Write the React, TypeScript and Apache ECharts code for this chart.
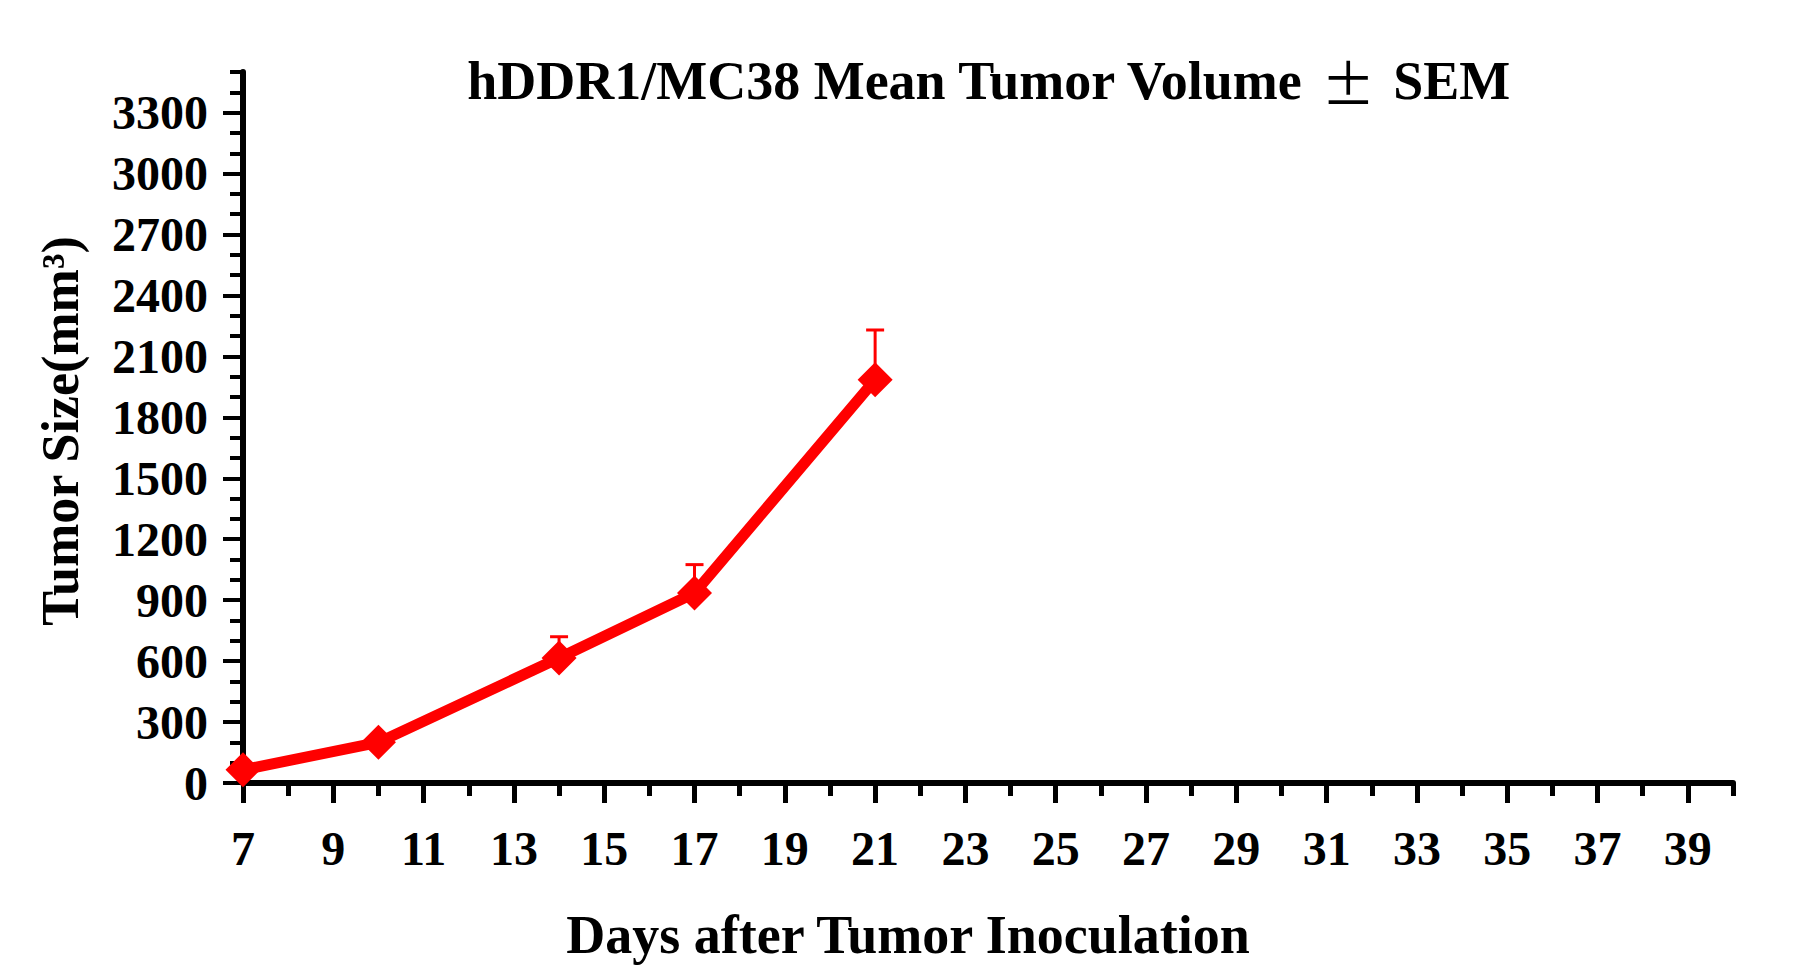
import React, { useEffect, useRef } from "react";
import * as echarts from "echarts";

const days = [7, 10, 14, 17, 21];
const meanVolume = [65, 200, 615, 935, 1985];
const semUpper = [65, 200, 720, 1075, 2230];

const xMajorTicks = [7, 9, 11, 13, 15, 17, 19, 21, 23, 25, 27, 29, 31, 33, 35, 37, 39];
const yMajorTicks = [0, 300, 600, 900, 1200, 1500, 1800, 2100, 2400, 2700, 3000, 3300];

const titleStart = "hDDR1/MC38 Mean Tumor Volume";
const titlePm = "±";
const titleEnd = "SEM";
const xTitle = "Days after Tumor Inoculation";
const yTitle = "Tumor Size(mm³)";

const FONT = "'Liberation Serif', 'Times New Roman', serif";

export default function App() {
  const ref = useRef<HTMLDivElement>(null);

  useEffect(() => {
    if (!ref.current) return;
    const chart = echarts.init(ref.current, null, { renderer: "svg" });
    const gridLeft = 243;
    const gridTop = 72;
    const gridWidth = 1490;
    const gridHeight = 711;

    const option: any = {
      animation: false,
      backgroundColor: "#ffffff",
      grid: { left: gridLeft, top: gridTop, width: gridWidth, height: gridHeight, containLabel: false },
      xAxis: [
        {
          type: "value",
          position: "bottom",
          min: 7,
          max: 40,
          interval: 1,
          splitLine: { show: false },
          axisLine: { show: true, onZero: false, lineStyle: { color: "#000", width: 6 } },
          axisTick: { show: true, inside: false, length: 13, lineStyle: { color: "#000", width: 5 } },
          axisLabel: {
            show: true,
            margin: 41,
            fontFamily: FONT,
            fontWeight: "bold",
            fontSize: 48,
            color: "#000",
            formatter: (v: number) => (xMajorTicks.indexOf(v) >= 0 ? String(v) : ""),
          },
        },
        {
          type: "value",
          position: "bottom",
          offset: 0,
          min: 7,
          max: 40,
          interval: 1,
          splitLine: { show: false },
          axisLine: { show: false },
          axisLabel: { show: false },
          axisTick: { show: true, length: 20, customValues: xMajorTicks, lineStyle: { color: "#000", width: 5 } },
        },
      ],
      yAxis: [
        {
          type: "value",
          position: "left",
          min: 0,
          max: 3500,
          interval: 100,
          splitLine: { show: false },
          axisLine: { show: true, onZero: false, lineStyle: { color: "#000", width: 6 } },
          axisTick: { show: true, inside: false, length: 13, lineStyle: { color: "#000", width: 4 } },
          axisLabel: {
            show: true,
            margin: 35,
            fontFamily: FONT,
            fontWeight: "bold",
            fontSize: 48,
            color: "#000",
            formatter: (v: number) => (yMajorTicks.indexOf(v) >= 0 ? String(v) : ""),
          },
        },
        {
          type: "value",
          position: "left",
          offset: 0,
          min: 0,
          max: 3500,
          interval: 100,
          splitLine: { show: false },
          axisLine: { show: false },
          axisLabel: { show: false },
          axisTick: { show: true, length: 20, customValues: yMajorTicks, lineStyle: { color: "#000", width: 4 } },
        },
      ],
      graphic: [
        {
          type: "text",
          x: 988,
          y: 81,
          style: {
            text: "{t|" + titleStart + "}{pm|" + titlePm + "}{t|" + titleEnd + "}",
            textAlign: "center",
            textVerticalAlign: "middle",
            rich: {
              t: {
                fontFamily: FONT,
                fontWeight: "bold",
                fontSize: 54,
                fill: "#000",
                lineHeight: 60,
              },
              pm: {
                fontFamily: "'Noto Sans CJK SC', 'DejaVu Sans', sans-serif",
                fontWeight: "normal",
                fontSize: 54,
                fill: "#000",
                lineHeight: 60,
                padding: [0, 18, 0, 18],
              },
            },
          },
        },
        {
          type: "text",
          x: 908,
          y: 935,
          style: {
            text: xTitle,
            fontFamily: FONT,
            fontWeight: "bold",
            fontSize: 54,
            fill: "#000",
            textAlign: "center",
            textVerticalAlign: "middle",
          },
        },
        {
          type: "text",
          x: 60,
          y: 431,
          rotation: Math.PI / 2,
          style: {
            text: yTitle,
            fontFamily: FONT,
            fontWeight: "bold",
            fontSize: 52,
            fill: "#000",
            textAlign: "center",
            textVerticalAlign: "middle",
          },
        },
      ],
      series: [
        {
          type: "custom",
          xAxisIndex: 0,
          yAxisIndex: 0,
          z: 2,
          data: days.map((d, i) => [d, meanVolume[i], semUpper[i]]),
          encode: { x: 0, y: [1, 2] },
          renderItem: (params: any, api: any) => {
            const x = api.value(0);
            const m = api.value(1);
            const u = api.value(2);
            if (!(u > m)) return { type: "group", children: [] };
            const p0 = api.coord([x, m]);
            const p1 = api.coord([x, u]);
            return {
              type: "group",
              children: [
                {
                  type: "line",
                  shape: { x1: p0[0], y1: p0[1], x2: p1[0], y2: p1[1] },
                  style: { stroke: "#ff0000", lineWidth: 3 },
                },
                {
                  type: "line",
                  shape: { x1: p1[0] - 9, y1: p1[1], x2: p1[0] + 9, y2: p1[1] },
                  style: { stroke: "#ff0000", lineWidth: 3 },
                },
              ],
            };
          },
        },
        {
          type: "line",
          xAxisIndex: 0,
          yAxisIndex: 0,
          z: 3,
          data: days.map((d, i) => [d, meanVolume[i]]),
          symbol: "diamond",
          symbolSize: 35,
          showSymbol: true,
          lineStyle: { color: "#ff0000", width: 11 },
          itemStyle: { color: "#ff0000" },
        },
      ],
    };
    chart.setOption(option);
    return () => {
      chart.dispose();
    };
  }, []);

  return (
    <div
      ref={ref}
      style={{ position: "absolute", left: 0, top: 0, width: 1802, height: 978, background: "#fff" }}
    />
  );
}
